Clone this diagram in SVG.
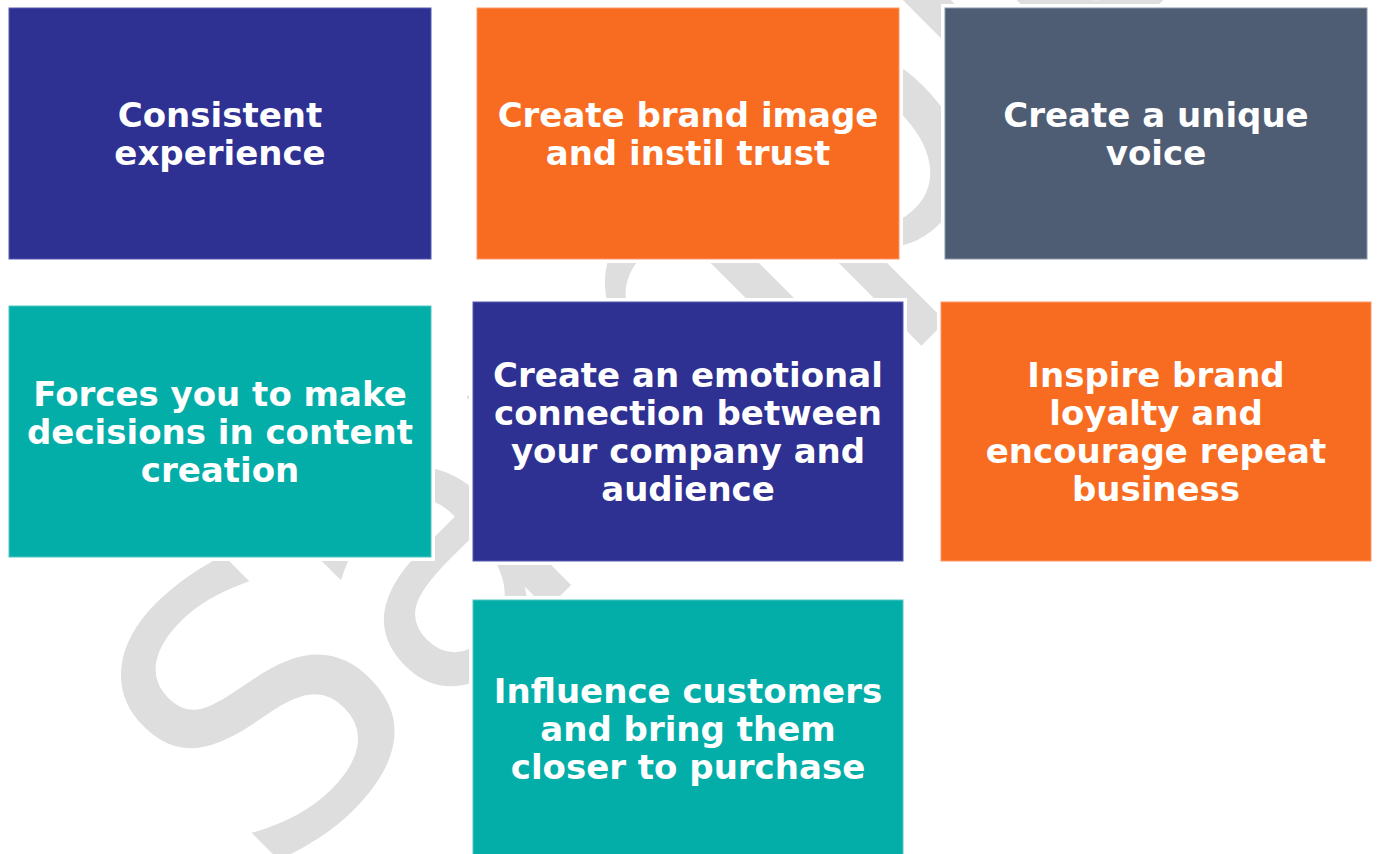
<svg xmlns="http://www.w3.org/2000/svg" width="1377" height="854" viewBox="0 0 1377 854">
<style>
.halo{fill:#ffffff;stroke:#ffffff;stroke-width:8}
.blue{fill:#2E3192;stroke:#5659B0;stroke-width:1}
.orange{fill:#F86C22;stroke:#FA9866;stroke-width:1}
.slate{fill:#4E5D74;stroke:#8A96A8;stroke-width:1}
.teal{fill:#04AEA8;stroke:#4FC6C2;stroke-width:1}
.lbl{font-family:"DejaVu Sans",Verdana,sans-serif;font-weight:bold;font-size:34px;fill:#ffffff;text-anchor:middle}
.wm{font-family:"DejaVu Sans",Verdana,sans-serif;font-size:378px;fill:#DEDEDE;letter-spacing:-10px}
</style>
<rect width="1377" height="854" fill="#ffffff"/>
<text class="wm" transform="translate(269,887) rotate(-45)">Sample</text>
<g id="n1"><rect class="halo" x="9" y="8" width="422" height="251"/><rect class="blue" x="9" y="8" width="422" height="251"/>
<text class="lbl"><tspan x="220" y="127">Consistent</tspan><tspan x="220" y="165">experience</tspan></text></g>
<g id="n2"><rect class="halo" x="477" y="8" width="422" height="251"/><rect class="orange" x="477" y="8" width="422" height="251"/>
<text class="lbl"><tspan x="688" y="127">Create brand image</tspan><tspan x="688" y="165">and instil trust</tspan></text></g>
<g id="n3"><rect class="halo" x="945" y="8" width="422" height="251"/><rect class="slate" x="945" y="8" width="422" height="251"/>
<text class="lbl"><tspan x="1156" y="127">Create a unique</tspan><tspan x="1156" y="165">voice</tspan></text></g>
<g id="n4"><rect class="halo" x="9" y="306" width="422" height="251"/><rect class="teal" x="9" y="306" width="422" height="251"/>
<text class="lbl"><tspan x="220" y="406">Forces you to make</tspan><tspan x="220" y="444">decisions in content</tspan><tspan x="220" y="482">creation</tspan></text></g>
<g id="n5"><rect class="halo" x="473" y="302" width="430" height="259"/><rect class="blue" x="473" y="302" width="430" height="259"/>
<text class="lbl"><tspan x="688" y="387">Create an emotional</tspan><tspan x="688" y="425">connection between</tspan><tspan x="688" y="463">your company and</tspan><tspan x="688" y="501">audience</tspan></text></g>
<g id="n6"><rect class="halo" x="941" y="302" width="430" height="259"/><rect class="orange" x="941" y="302" width="430" height="259"/>
<text class="lbl"><tspan x="1156" y="387">Inspire brand</tspan><tspan x="1156" y="425">loyalty and</tspan><tspan x="1156" y="463">encourage repeat</tspan><tspan x="1156" y="501">business</tspan></text></g>
<g id="n7"><rect class="halo" x="473" y="600" width="430" height="260"/><rect class="teal" x="473" y="600" width="430" height="260"/>
<text class="lbl"><tspan x="688" y="703">Influence customers</tspan><tspan x="688" y="741">and bring them</tspan><tspan x="688" y="779">closer to purchase</tspan></text></g>
<g id="connectors"/>
</svg>
